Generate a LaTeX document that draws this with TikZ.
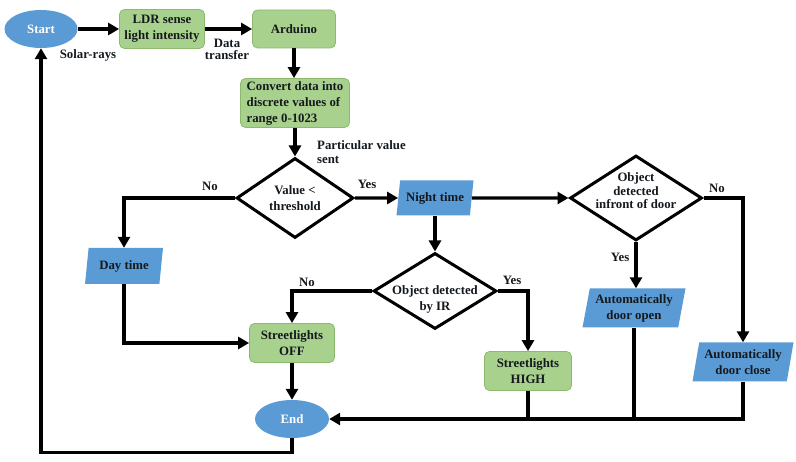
\documentclass[tikz,border=0pt]{standalone}
\usepackage{fontspec}
\setmainfont{Liberation Serif}
\usetikzlibrary{arrows.meta,shapes.geometric,calc}
\definecolor{oblue}{RGB}{91,155,213}
\definecolor{ogreen}{RGB}{169,209,142}
\definecolor{ogreenb}{RGB}{140,185,110}
\definecolor{otext}{RGB}{20,25,30}
\begin{document}
\begin{tikzpicture}[x=1pt,y=-1pt,
  font=\fontsize{12.8}{16}\selectfont\bfseries,
  term/.style={ellipse, fill=oblue, text=white, minimum width=73pt, minimum height=38pt, inner sep=0pt},
  proc/.style={rectangle, rounded corners=5pt, fill=ogreen, draw=ogreenb, line width=0.8pt, align=center, inner xsep=2pt, inner ysep=1pt, text=otext},
  io/.style={trapezium, trapezium left angle=77, trapezium right angle=103, trapezium stretches body, fill=oblue, align=center, inner xsep=2pt, inner ysep=2pt, text=otext},
  dec/.style={diamond, draw=black, line width=3pt, inner sep=0pt},
  flow/.style={line width=3.2pt, -{Triangle[length=11pt,width=12pt]}},
  plain/.style={line width=3.2pt},
  lbl/.style={inner sep=0pt, align=center, text=otext},
]
\useasboundingbox (0,0) rectangle (796,462);

% nodes
\node[term] (start) at (41,29) {Start};
\node[proc, minimum width=85pt, minimum height=39pt] (ldr) at (162,29) {LDR sense\\light intensity};
\node[proc, minimum width=83pt, minimum height=38pt] (ard) at (294,29) {Arduino};
\node[proc, minimum width=109pt, minimum height=49pt, align=left, inner ysep=0pt] (conv) at (295,103) {Convert data into\\discrete values of\\range 0-1023};
\node[dec, minimum width=117pt, minimum height=80pt, label={[lbl]center:Value <\\threshold}] (val) at (295,198) {};
\node[io, minimum width=77pt, minimum height=35pt] (night) at (435,198) {Night time};
\node[io, minimum width=78pt, minimum height=36pt] (day) at (124,266) {Day time};
\node[dec, minimum width=123pt, minimum height=76pt, label={[lbl,yshift=-8pt]center:Object detected\\by IR}] (ir) at (435,291) {};
\node[dec, minimum width=132pt, minimum height=85pt, label={[lbl,yshift=7pt,font=\fontsize{12.8}{13.5}\selectfont\bfseries]center:Object\\detected\\infront of door}] (door) at (636,198) {};
\node[proc, minimum width=85pt, minimum height=39pt] (off) at (292,343) {Streetlights\\OFF};
\node[proc, minimum width=87pt, minimum height=39pt] (high) at (528,371) {Streetlights\\HIGH};
\node[term, minimum width=74pt] (end) at (292,419) {End};
\node[io, minimum width=103pt, minimum height=39pt] (open) at (634,308) {Automatically\\door open};
\node[io, minimum width=101pt, minimum height=39pt] (close) at (743,362) {Automatically\\door close};

% labels
\node[lbl] (solar) at (88,55) {Solar-rays};
\node[lbl, font=\fontsize{12.8}{12}\selectfont\bfseries] (dt) at (227,49) {Data\\transfer};
\node[lbl, align=left, anchor=west, font=\fontsize{12.8}{14}\selectfont\bfseries] (pv) at (317,152) {Particular value\\sent};
\node[lbl] (no1) at (210,186) {No};
\node[lbl] (yes1) at (367,184) {Yes};
\node[lbl] (no2) at (307,282) {No};
\node[lbl] (yes2) at (512,280) {Yes};
\node[lbl] (yes3) at (620,257) {Yes};
\node[lbl] (no3) at (717,188) {No};

% connectors
\draw[flow] (start) -- (ldr);
\draw[flow] (ldr) -- (ard);
\draw[flow] (ard.south) -- (ard.south |- conv.north);
\draw[flow] (conv.south) -- (conv.south |- val.north);
\draw[flow] (val.west) -| (day.north);
\draw[flow] (val.east) -- (night.west);
\draw[flow] (night.east) -- (door.west);
\draw[flow] (night.south) -- (night.south |- ir.north);
\draw[flow] (ir.west) -| (off.north);
\draw[flow] (ir.east) -| (high.north);
\draw[flow] (day.south) |- (off.west);
\draw[flow] (off.south) -- (off.south |- end.north);
\draw[flow] (door.south) -- (door.south |- open.north);
\draw[flow] (door.east) -| (close.north);
\draw[flow] (close.south) |- (end.east);
\draw[plain] (open.south) -- (open.south |- end.east);
\draw[plain] (high.south) -- (high.south |- end.east);
\draw[flow] (end.south) -- ++(0,14) -| (start.south);
\end{tikzpicture}
\end{document}
